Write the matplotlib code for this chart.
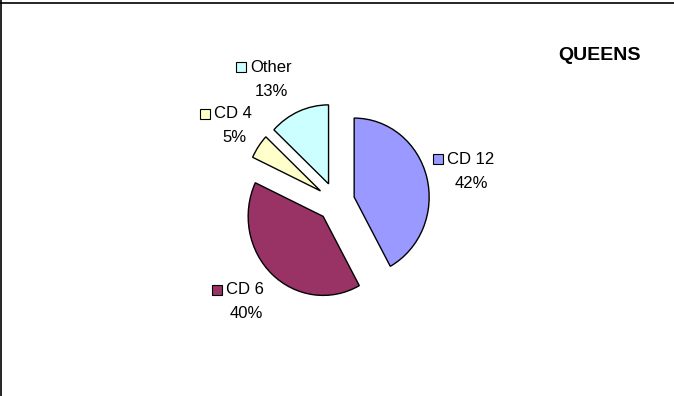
"""
Pie chart of Queens community districts share.
"""

import matplotlib.pyplot as plt
from matplotlib.lines import Line2D

# data
categories = ['CD 12', 'CD 6', 'CD 4', 'Other']
shares = [42, 40, 5, 13]
colors = ['#9999FF', '#993366', '#FFFFCC', '#CCFFFF']
title = 'QUEENS'

W, H = 674, 396
plt.rcParams['font.family'] = ['Liberation Sans', 'DejaVu Sans']

fig = plt.figure(figsize=(W / 100, H / 100), dpi=100)

# pie centre and radii in pixels (picture is slightly squeezed horizontally)
cx, cy, rx, ry = 336, 202, 75, 79
ax = fig.add_axes([0, 0, 1, 1])
ax.pie(shares, colors=colors, startangle=90, counterclock=False,
       explode=[0.25] * len(shares),
       wedgeprops=dict(edgecolor='black', linewidth=1.0))
ax.set_aspect('auto')
ax.set_xlim(-cx / rx, (W - cx) / rx)
ax.set_ylim(-(H - cy) / ry, cy / ry)
ax.axis('off')


def px(x, y):
    """pixel position (from top-left) -> figure fraction"""
    return x / W, 1 - y / H


# data labels: key centre x, first line y, percent centre x
label_pos = [(438, 159, 471), (217, 290, 246), (205, 114, 234), (241, 67, 271)]
for cat, val, col, (kx, ly, pxc) in zip(categories, shares, colors, label_pos):
    fig.add_artist(Line2D([kx / W], [1 - ly / H], marker='s', markersize=7.5,
                          markerfacecolor=col, markeredgecolor='black',
                          markeredgewidth=0.8))
    fig.text(*px(kx + 9, ly), cat, ha='left', va='center', fontsize=12)
    fig.text(*px(pxc, ly + 24), f'{val}%', ha='center', va='center', fontsize=12)

fig.text(*px(641, 55), title, ha='right', va='center', fontsize=14, fontweight='bold')

# chart border (top and left edges visible)
fig.add_artist(Line2D([0, 1], [1 - 2.5 / H, 1 - 2.5 / H], color='black', lw=1.2))
fig.add_artist(Line2D([0.8 / W, 0.8 / W], [0, 1], color='black', lw=1.2))

fig.savefig('out.png', dpi=100, facecolor='white')
